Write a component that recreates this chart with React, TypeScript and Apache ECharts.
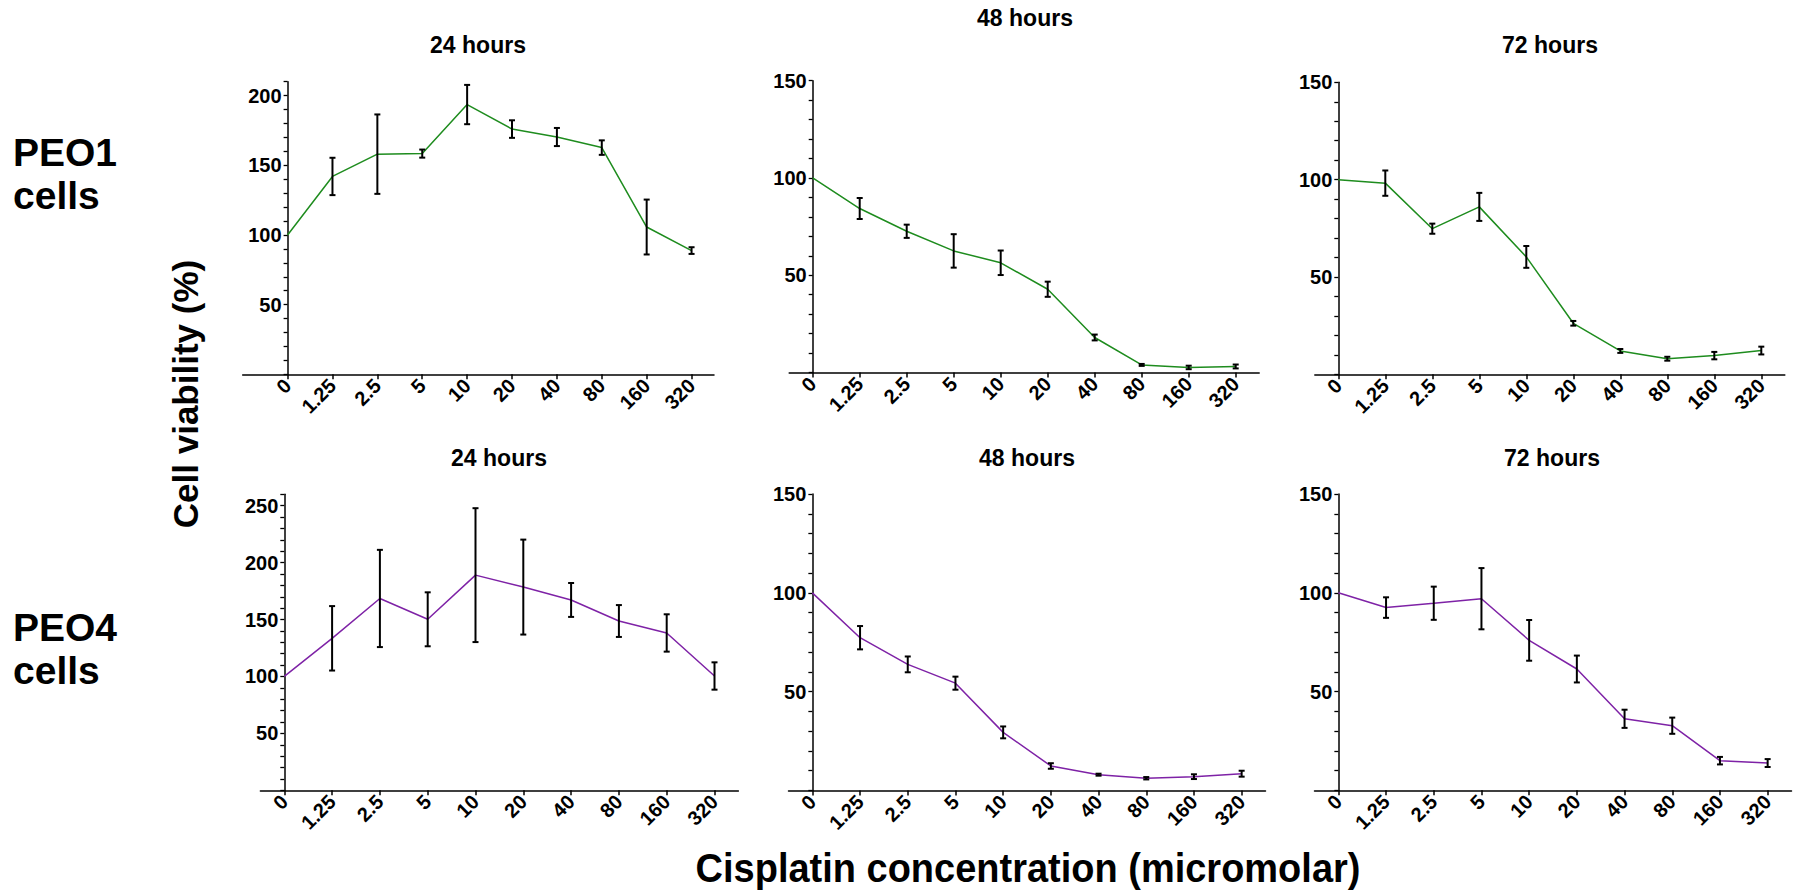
import React, { useEffect, useRef } from "react";
import * as echarts from "echarts";

const categories = ["0", "1.25", "2.5", "5", "10", "20", "40", "80", "160", "320"];

const peo1_24_mean = [100, 142, 158, 158.4, 193.6, 176, 170.3, 162.7, 105.7, 88.8];
const peo1_24_err = [0, 13.4, 28.5, 2.9, 14.1, 6.3, 6.5, 5.2, 19.7, 2.4];
const peo1_48_mean = [100, 84.3, 72.6, 62.5, 56.4, 42.8, 18, 3.9, 2.6, 3.1];
const peo1_48_err = [0, 5.4, 3.4, 8.6, 6.3, 3.9, 1.5, 0.5, 0.9, 1];
const peo1_72_mean = [100, 98.2, 74.8, 86, 60.3, 26.2, 12, 8, 9.6, 12.2];
const peo1_72_err = [0, 6.5, 2.6, 7.2, 5.6, 1.2, 1, 1, 1.9, 2];

const peo4_24_mean = [100, 133.5, 168.5, 150.2, 189, 178.5, 167.2, 148.7, 138.2, 100.4];
const peo4_24_err = [0, 28.3, 42.7, 23.7, 58.8, 41.7, 14.9, 14, 16.4, 12];
const peo4_48_mean = [100, 77.3, 63.8, 54.3, 29.4, 12.4, 8, 6.2, 7, 8.5];
const peo4_48_err = [0, 5.9, 4, 3.3, 3, 1.4, 0.5, 0.6, 1.2, 1.5];
const peo4_72_mean = [100, 92.5, 94.7, 97, 75.9, 61.4, 36.2, 32.7, 15, 13.8];
const peo4_72_err = [0, 5.2, 8.4, 15.5, 10.3, 6.8, 4.6, 4.1, 1.9, 2];

const panelTitles = ["24 hours", "48 hours", "72 hours", "24 hours", "48 hours", "72 hours"];
const yMax = [210, 150, 150, 260, 150, 150];
const yLabels = [
  [50, 100, 150, 200],
  [50, 100, 150],
  [50, 100, 150],
  [50, 100, 150, 200, 250],
  [50, 100, 150],
  [50, 100, 150],
];
const rowLabels = ["PEO1", "PEO4"];
const yTitle = "Cell viability (%)";
const xTitle = "Cisplatin concentration (micromolar)";

const GREEN = "#1e8c1e";
const PURPLE = "#7e22a6";

const panels = [
  { mean: peo1_24_mean, err: peo1_24_err, color: GREEN },
  { mean: peo1_48_mean, err: peo1_48_err, color: GREEN },
  { mean: peo1_72_mean, err: peo1_72_err, color: GREEN },
  { mean: peo4_24_mean, err: peo4_24_err, color: PURPLE },
  { mean: peo4_48_mean, err: peo4_48_err, color: PURPLE },
  { mean: peo4_72_mean, err: peo4_72_err, color: PURPLE },
];

// layout (pixels)
const X_MAX = 9.5;
const layout = [
  { left: 242.7, top: 81.7, width: 471.3, height: 292.6, xmin: -1, tx: 478, ty: 45 },
  { left: 789.2, top: 80.7, width: 470, height: 291.8, xmin: -0.5, tx: 1025, ty: 18 },
  { left: 1314.8, top: 82.3, width: 470, height: 292, xmin: -0.5, tx: 1550, ty: 45 },
  { left: 260.4, top: 494.3, width: 478, height: 296, xmin: -0.5, tx: 499, ty: 458 },
  { left: 788.5, top: 494, width: 477, height: 296.5, xmin: -0.5, tx: 1027, ty: 458 },
  { left: 1314.5, top: 494, width: 477, height: 296.3, xmin: -0.5, tx: 1552, ty: 458 },
];

const FONT = "Liberation Sans, Arial, sans-serif";

export default function App() {
  const ref = useRef<HTMLDivElement>(null);
  useEffect(() => {
    document.body.style.margin = "0";
    document.body.style.overflow = "hidden";
    const chart = echarts.init(ref.current!, null, { renderer: "svg" });
    const catIdx = categories.map((_, i) => i);

    const grid: any[] = [];
    const xAxis: any[] = [];
    const yAxis: any[] = [];
    const series: any[] = [];

    layout.forEach((L, g) => {
      grid.push({
        left: L.left,
        top: L.top,
        width: L.width,
        height: L.height,
        containLabel: false,
        outerBoundsMode: "none",
      });
      xAxis.push({
        type: "value",
        gridIndex: g,
        position: "bottom",
        min: L.xmin,
        max: X_MAX,
        splitLine: { show: false },
        axisLine: { show: true, onZero: false, lineStyle: { color: "#000", width: 1.5 } },
        axisTick: { show: true, length: 5, customValues: catIdx, lineStyle: { color: "#000", width: 1.5 } },
        axisLabel: {
          show: true,
          customValues: catIdx,
          rotate: 45,
          margin: 8,
          fontFamily: FONT,
          fontWeight: "bold",
          fontSize: 20,
          color: "#000",
          formatter: (v: number) => categories[Math.round(v)] ?? "",
        },
      });
      // shift the y axis from the grid's left edge to x = 0
      const zeroShift = (L.width * (0 - L.xmin)) / (X_MAX - L.xmin);
      yAxis.push({
        type: "value",
        gridIndex: g,
        position: "left",
        offset: -zeroShift,
        min: 0,
        max: yMax[g],
        interval: 10,
        splitLine: { show: false },
        axisLine: { show: true, onZero: false, lineStyle: { color: "#000", width: 1.5 } },
        axisTick: { show: true, length: 4, lineStyle: { color: "#000", width: 1.3 } },
        axisLabel: {
          show: true,
          customValues: yLabels[g],
          margin: 6,
          fontFamily: FONT,
          fontWeight: "bold",
          fontSize: 20,
          color: "#000",
        },
      });
      const p = panels[g];
      series.push({
        type: "line",
        xAxisIndex: g,
        yAxisIndex: g,
        data: p.mean.map((m, i) => [i, m]),
        symbol: "none",
        lineStyle: { color: p.color, width: 1.5 },
        z: 2,
      });
      series.push({
        type: "custom",
        xAxisIndex: g,
        yAxisIndex: g,
        data: p.mean.map((m, i) => [i, m - p.err[i], m + p.err[i]]),
        encode: { x: 0, y: [1, 2] },
        z: 3,
        renderItem: (params: any, api: any) => {
          const x = api.value(0);
          const lo = api.value(1);
          const hi = api.value(2);
          if (!(hi - lo > 0)) return null;
          const a = api.coord([x, lo]);
          const b = api.coord([x, hi]);
          const w = 3;
          const st = { stroke: "#000", lineWidth: 2 };
          return {
            type: "group",
            children: [
              { type: "line", shape: { x1: a[0], y1: a[1], x2: b[0], y2: b[1] }, style: st },
              { type: "line", shape: { x1: a[0] - w, y1: a[1], x2: a[0] + w, y2: a[1] }, style: st },
              { type: "line", shape: { x1: b[0] - w, y1: b[1], x2: b[0] + w, y2: b[1] }, style: st },
            ],
          };
        },
      });
    });

    const graphic: any[] = [];
    layout.forEach((L, g) => {
      graphic.push({
        type: "text",
        x: L.tx,
        y: L.ty,
        style: {
          text: panelTitles[g],
          fontFamily: FONT,
          fontWeight: "bold",
          fontSize: 23,
          fill: "#000",
          textAlign: "center",
          textVerticalAlign: "middle",
        },
      });
    });
    const rowY = [152, 627];
    rowLabels.forEach((r, k) => {
      graphic.push({
        type: "text",
        x: 13,
        y: rowY[k],
        style: {
          text: r,
          fontFamily: FONT,
          fontWeight: "bold",
          fontSize: 39,
          fill: "#000",
          textAlign: "left",
          textVerticalAlign: "middle",
        },
      });
      graphic.push({
        type: "text",
        x: 13,
        y: rowY[k] + 43,
        style: {
          text: "cells",
          fontFamily: FONT,
          fontWeight: "bold",
          fontSize: 39,
          fill: "#000",
          textAlign: "left",
          textVerticalAlign: "middle",
        },
      });
    });
    graphic.push({
      type: "text",
      x: 185,
      y: 394,
      rotation: Math.PI / 2,
      style: {
        text: yTitle,
        fontFamily: FONT,
        fontWeight: "bold",
        fontSize: 35,
        fill: "#000",
        textAlign: "center",
        textVerticalAlign: "middle",
      },
    });
    graphic.push({
      type: "text",
      x: 1028,
      y: 868,
      scaleX: 0.95,
      style: {
        text: xTitle,
        fontFamily: FONT,
        fontWeight: "bold",
        fontSize: 40,
        fill: "#000",
        textAlign: "center",
        textVerticalAlign: "middle",
      },
    });

    chart.setOption({
      animation: false,
      backgroundColor: "#fff",
      grid,
      xAxis,
      yAxis,
      series,
      graphic,
    });
    return () => chart.dispose();
  }, []);
  return <div ref={ref} style={{ width: 1798, height: 891 }} />;
}
